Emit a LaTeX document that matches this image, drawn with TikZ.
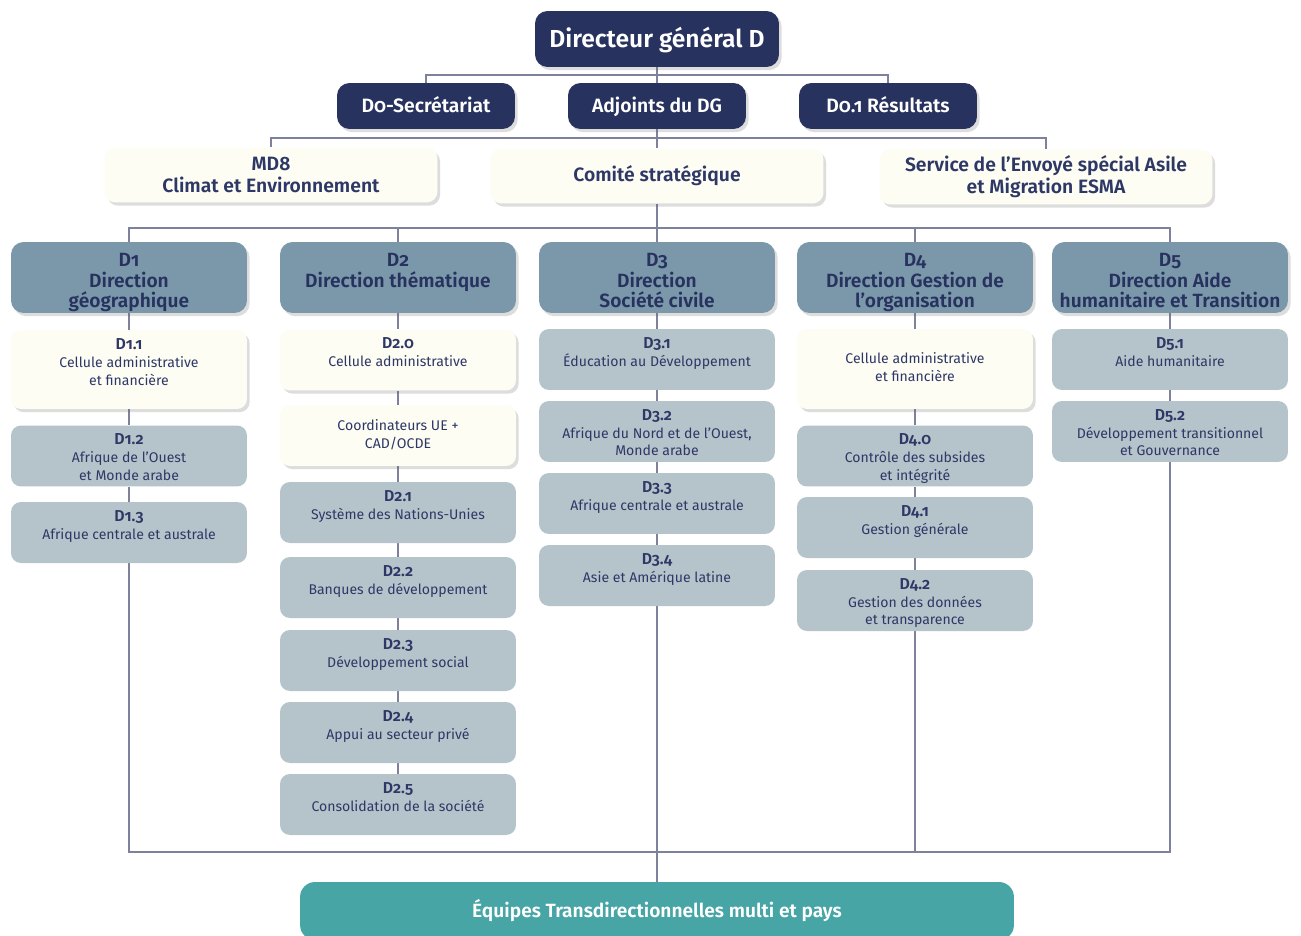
\documentclass[tikz,border=0pt]{standalone}
\usepackage{fontspec}
\setmainfont{Fira Sans}[Numbers=OldStyle,BoldFont={Fira Sans SemiBold}]
\usetikzlibrary{shadows,backgrounds}

\definecolor{navy}{HTML}{27325F}
\definecolor{dhead}{HTML}{7B98AB}
\definecolor{subgray}{HTML}{B5C4CB}
\definecolor{cream}{HTML}{FDFDF4}
\definecolor{teal}{HTML}{47A5A5}
\definecolor{linec}{HTML}{7D819B}
\definecolor{txt}{HTML}{2E3866}

\newcommand{\code}[1]{\rule{0pt}{10.5pt}{\bfseries\fontsize{9}{10.2}\selectfont #1}}
\newcommand{\dtop}{\rule{0pt}{13.6pt}}
\newcommand{\dbot}{\rule[-2.6pt]{0pt}{2.6pt}}

\tikzset{
	shadowed/.style={drop shadow={shadow xshift=1.5pt,shadow yshift=-1.8pt,opacity=0.22,fill=black!60}},
	chief/.style={fill=navy, text=white, rounded corners=0.25cm, shadowed, text height=12pt, text depth=2.3pt, font=\bfseries\fontsize{14}{16}\selectfont},
	staff/.style={chief, minimum width=3.56cm, minimum height=0.92cm, text height=9.6pt, text depth=2pt, font=\bfseries\fontsize{11}{13}\selectfont},
	council/.style={fill=cream, text=txt, rounded corners=0.22cm, shadowed, minimum width=6.66cm, minimum height=1.1cm, align=center, font=\bfseries\fontsize{11}{12.4}\selectfont},
	direction/.style={fill=dhead, text=navy, rounded corners=0.25cm, shadowed, minimum width=4.72cm, minimum height=1.42cm, inner sep=0pt, align=center, font=\bfseries\fontsize{10.9}{11.6}\selectfont},
	unit/.style={fill=subgray, text=txt, rounded corners=0.2cm, minimum width=4.72cm, minimum height=1.22cm, inner sep=0pt, align=center, font=\fontsize{8}{10.2}\selectfont},
	cell/.style={unit, fill=cream, shadowed},
	teams/.style={fill=teal, text=white, rounded corners=0.3cm, minimum width=14.28cm, minimum height=1.16cm, text height=9.5pt, text depth=2pt, font=\bfseries\fontsize{10.9}{12}\selectfont},
	line/.style={draw=linec, line width=0.7pt}
}

\begin{document}
\begin{tikzpicture}[x=0.02cm,y=-0.02cm]
	\useasboundingbox (0,0) rectangle (1301,936);

	\node[chief, minimum width=4.88cm, minimum height=1.12cm] (dg) at (657,39) {Directeur général D};
	\node[staff] (sec) at (426,106) {D0-Secrétariat};
	\node[staff] (adj) at (657,106) {Adjoints du DG};
	\node[staff] (res) at (888,106) {D0.1 Résultats};

	\node[council] (md8) at (271,175) {MD8\\Climat et Environnement};
	\node[council] (comite) at (657,176) {Comité stratégique};
	\node[council] (esma) at (1046,177) {Service de l'Envoyé spécial Asile\\et Migration ESMA};

	\node[direction] (d1) at (129,277.5) {\dtop D1\\Direction\\géographique\dbot};
	\node[direction] (d2) at (398,277.5) {\dtop D2\\Direction thématique\\\dbot};
	\node[direction] (d3) at (657,277.5) {\dtop D3\\Direction\\Société civile\dbot};
	\node[direction] (d4) at (915,277.5) {\dtop D4\\Direction Gestion de\\l'organisation\dbot};
	\node[direction] (d5) at (1170,277.5) {\dtop D5\\Direction Aide\\humanitaire et Transition\dbot};

	\node[cell, minimum height=1.58cm] (d11) at (129,369.5) {\code{D1.1}\\Cellule administrative\\et financière\\\strut};
	\node[unit] (d12) at (129,456) {\code{D1.2}\\Afrique de l'Ouest\\et Monde arabe\strut};
	\node[unit] (d13) at (129,532.5) {\code{D1.3}\\Afrique centrale et australe\\\strut};

	\node[cell] (d20) at (398,360) {\code{D2.0}\\Cellule administrative\\\strut};
	\node[cell] (d2c) at (398,435.5) {\strut Coordinateurs UE +\\CAD/OCDE\strut};
	\node[unit] (d21) at (398,512.5) {\code{D2.1}\\Système des Nations-Unies\\\strut};
	\node[unit] (d22) at (398,587.5) {\code{D2.2}\\Banques de développement\\\strut};
	\node[unit] (d23) at (398,660.5) {\code{D2.3}\\Développement social\\\strut};
	\node[unit] (d24) at (398,732.5) {\code{D2.4}\\Appui au secteur privé\\\strut};
	\node[unit] (d25) at (398,804.5) {\code{D2.5}\\Consolidation de la société\\\strut};

	\node[unit] (d31) at (657,359.5) {\code{D3.1}\\Éducation au Développement\\\strut};
	\node[unit] (d32) at (657,431.5) {\code{D3.2}\\Afrique du Nord et de l'Ouest,\\Monde arabe\strut};
	\node[unit] (d33) at (657,503.5) {\code{D3.3}\\Afrique centrale et australe\\\strut};
	\node[unit] (d34) at (657,575.5) {\code{D3.4}\\Asie et Amérique latine\\\strut};

	\node[cell, minimum height=1.6cm] (d4c) at (915,369) {\strut Cellule administrative\\et financière\strut};
	\node[unit] (d40) at (915,456) {\code{D4.0}\\Contrôle des subsides\\et intégrité\strut};
	\node[unit] (d41) at (915,527.5) {\code{D4.1}\\Gestion générale\\\strut};
	\node[unit] (d42) at (915,600.5) {\code{D4.2}\\Gestion des données\\et transparence\strut};

	\node[unit] (d51) at (1170,359.5) {\code{D5.1}\\Aide humanitaire\\\strut};
	\node[unit] (d52) at (1170,431.5) {\code{D5.2}\\Développement transitionnel\\et Gouvernance\strut};

	\node[teams] (eq) at (657,911) {Équipes Transdirectionnelles multi et pays};

	\begin{scope}[on background layer]
		\fill[white] (0,0) rectangle (1301,936);
		\coordinate (j1) at (657,75);
		\coordinate (j2) at (657,138);
		\coordinate (j3) at (657,228);
		\coordinate (j4) at (657,852);
		\draw[line] (sec) |- (j1) -| (res);
		\draw[line] (dg) -- (adj) -- (comite) -- (d3);
		\draw[line] (md8) |- (j2) -| (esma);
		\draw[line] (d1) |- (j3) -| (d5);
		\draw[line] (d2) |- (j3);
		\draw[line] (d4) |- (j3);
		\draw[line] (d1) -- (d11) -- (d12) -- (d13);
		\draw[line] (d2) -- (d20) -- (d2c) -- (d21) -- (d22) -- (d23) -- (d24) -- (d25);
		\draw[line] (d3) -- (d31) -- (d32) -- (d33) -- (d34) -- (eq);
		\draw[line] (d4) -- (d4c) -- (d40) -- (d41) -- (d42);
		\draw[line] (d5) -- (d51) -- (d52);
		\draw[line] (d13) |- (j4) -| (d52);
		\draw[line] (d42) -- (d42 |- j4);
	\end{scope}
\end{tikzpicture}
\end{document}
